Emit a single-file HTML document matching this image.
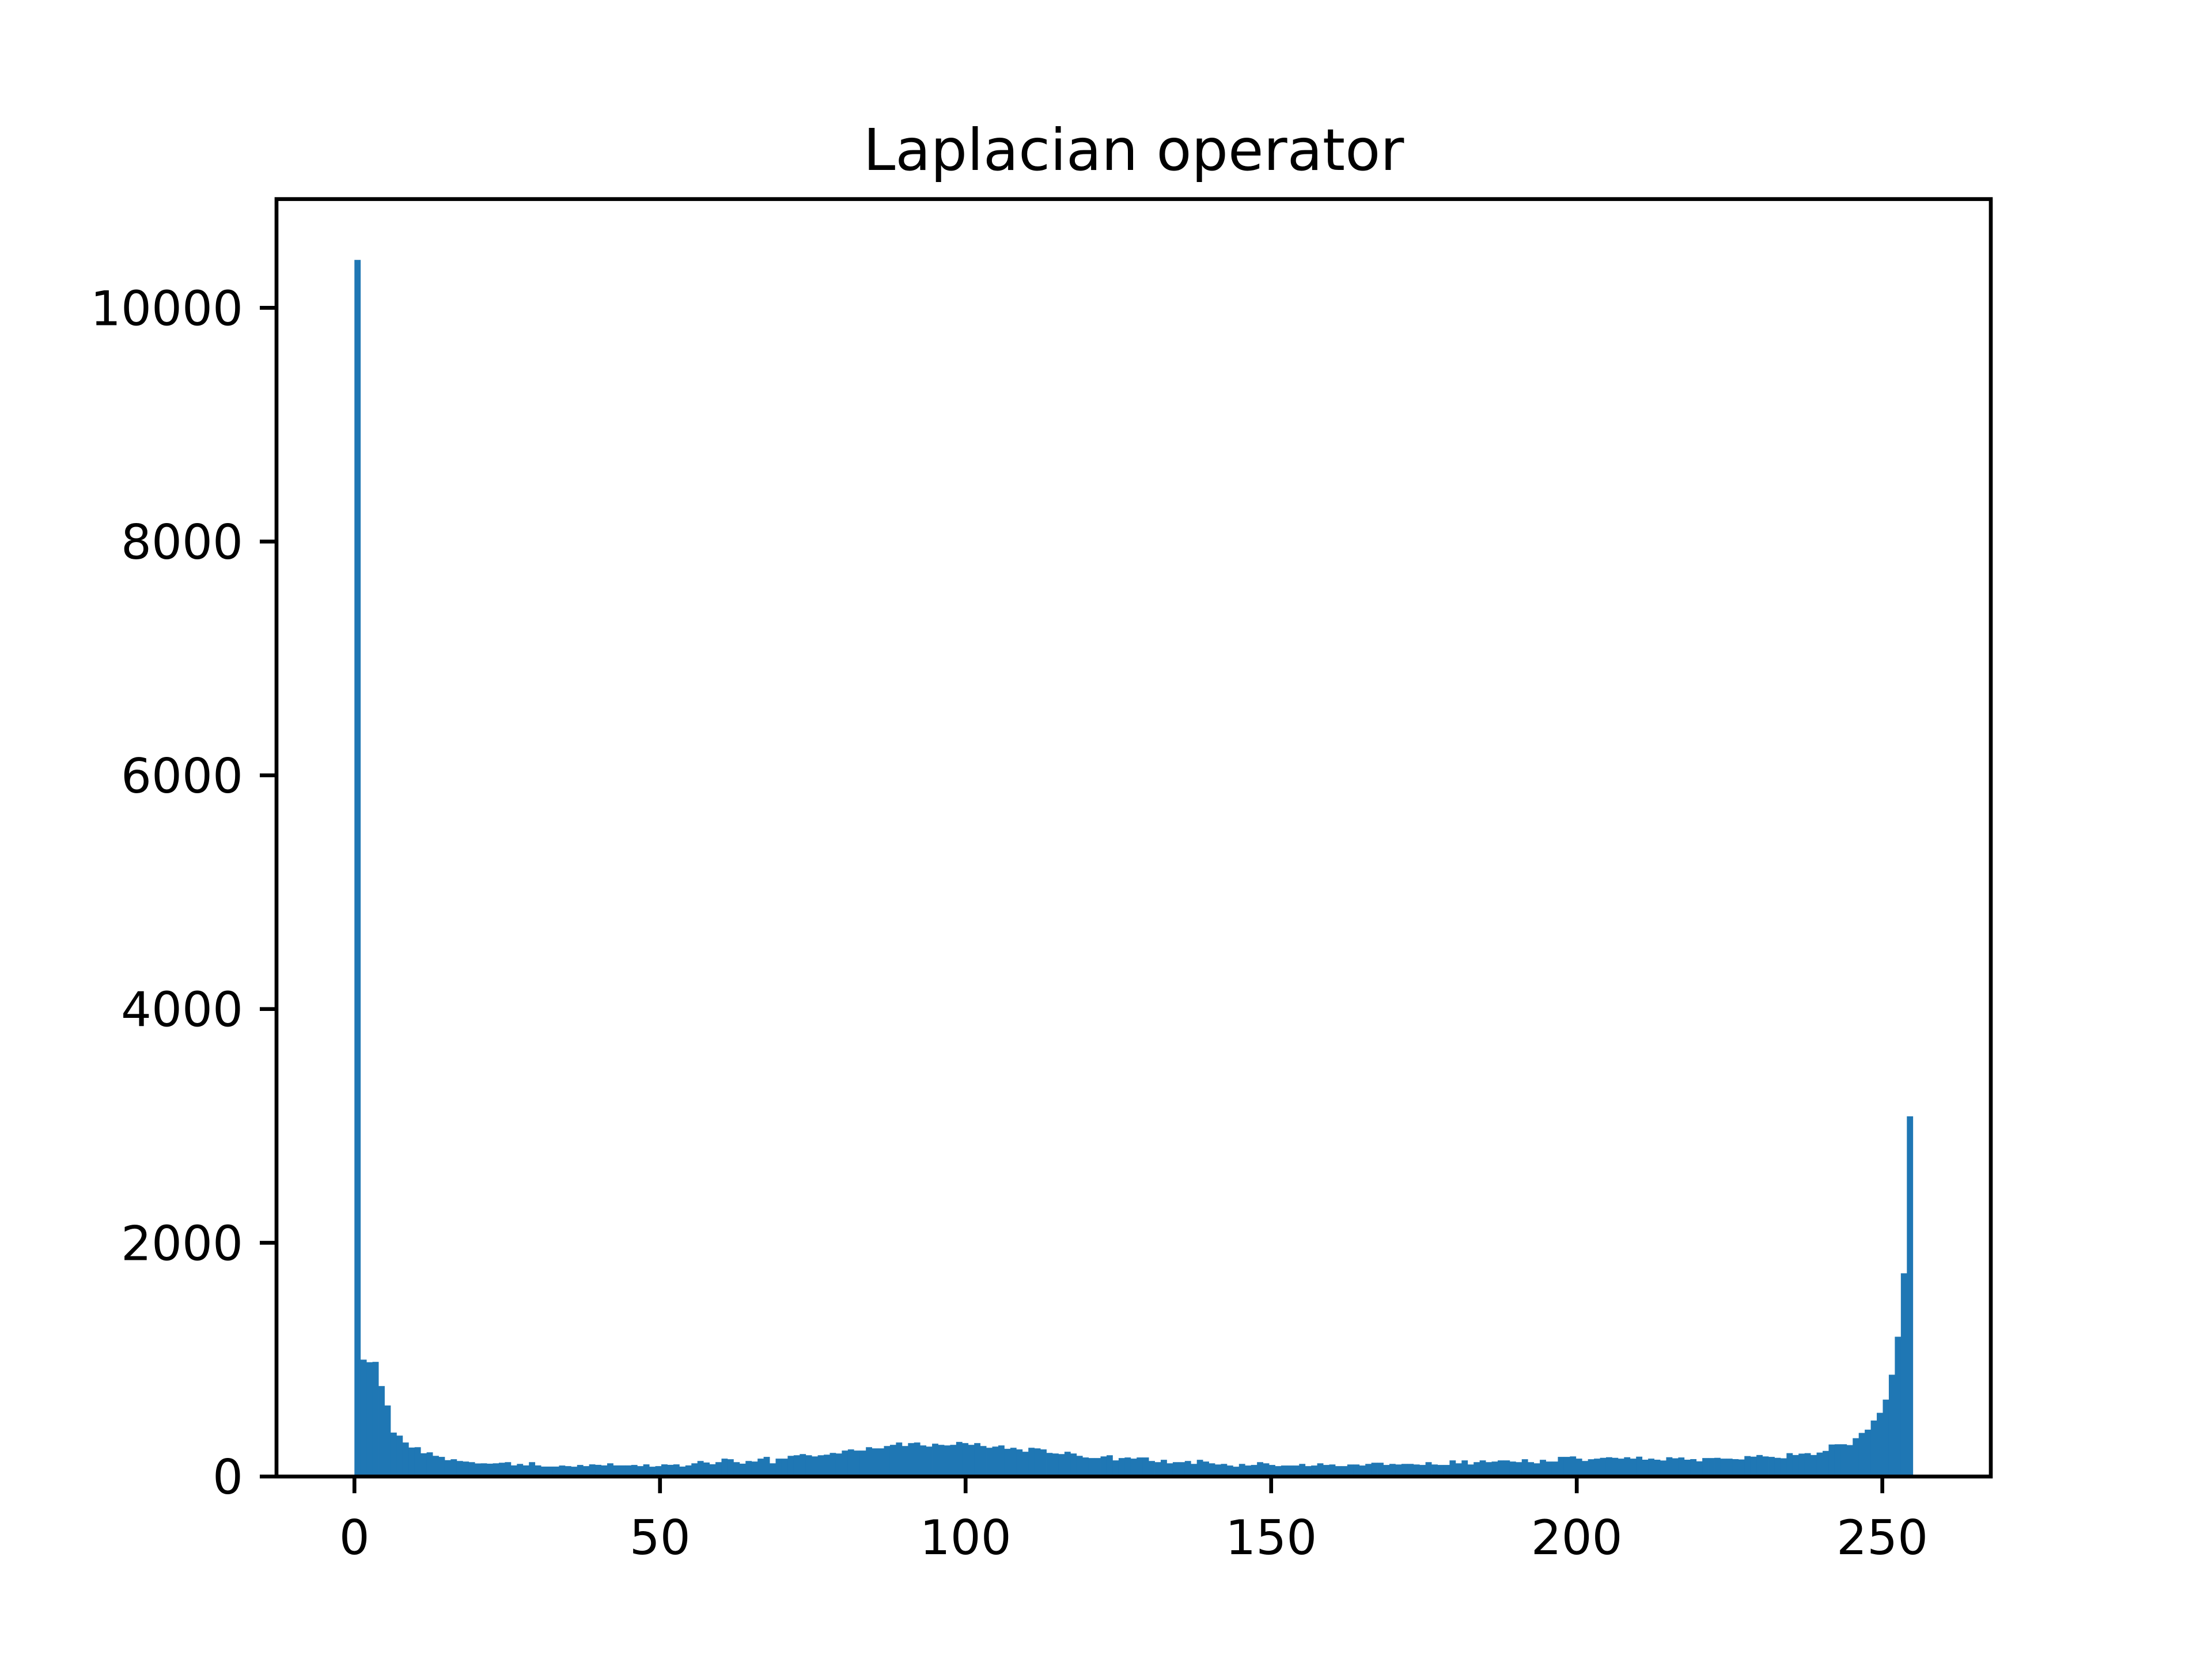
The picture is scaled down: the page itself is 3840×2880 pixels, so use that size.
<!DOCTYPE html>
<html><head><meta charset="utf-8"><style>
html,body{margin:0;padding:0;background:#fff;}
svg{display:block;font-family:"DejaVu Sans","Liberation Sans",sans-serif;}
</style></head><body>
<svg id="chart" width="3840" height="2880" viewBox="0 0 3840 2880" xmlns="http://www.w3.org/2000/svg">
<rect x="0" y="0" width="3840" height="2880" fill="#fff"/>
<text x="1968" y="295" font-size="100" text-anchor="middle" fill="#000">Laplacian operator</text>
<g id="bars"></g>
<g id="xticks"></g>
<g id="yticks"></g>
<rect x="480" y="345.6" width="2976" height="2217.6" fill="none" stroke="#000" stroke-width="6.67"/>
</svg>
<script>
const counts = [10410,1000,978,981,774,608,376,350,291,248,251,199,207,177,168,140,148,133,128,123,
112,113,110,113,118,123,95,108,95,123,95,85,85,85,94,89,84,99,89,104,
100,95,113,95,95,95,99,89,104,84,89,104,100,104,85,95,113,133,120,105,
123,153,148,123,110,133,128,153,168,113,153,153,177,182,192,182,172,182,187,202,
197,222,232,222,222,251,241,241,261,271,291,261,286,291,266,256,281,271,266,271,
296,286,271,286,261,246,256,266,237,246,232,212,246,241,232,202,197,192,212,197,
177,163,158,158,172,182,138,158,163,153,163,163,133,123,143,113,123,123,133,108,
143,128,113,103,108,94,84,108,94,99,123,113,99,89,94,94,94,108,89,94,
113,99,103,89,89,103,103,94,108,118,118,99,108,103,108,108,103,99,123,103,
99,99,138,113,138,103,123,138,123,128,138,138,128,123,148,123,113,143,128,128,
168,168,172,153,133,148,153,160,165,160,153,165,153,170,144,153,144,137,165,156,
163,144,149,130,158,158,160,153,153,149,146,175,170,184,172,168,160,156,200,184,
196,200,184,205,219,274,276,276,269,328,373,401,479,545,658,871,1196,1739,3082];
const xTicks = [0,50,100,150,200,250];
const yTicks = [0,2000,4000,6000,8000,10000];
const dataMin = 0, dataMax = 255;

const L=480,R=3456,T=345.6,B=2563.2;
const span=dataMax-dataMin, x0=dataMin-0.05*span, x1=dataMax+0.05*span;
const yMax=Math.max(...counts)*1.05;
const sx=v=>L+(v-x0)/(x1-x0)*(R-L);
const sy=v=>B-v/yMax*(B-T);
const NS="http://www.w3.org/2000/svg";
const bw=span/counts.length;
const bars=document.getElementById('bars');
counts.forEach((c,i)=>{
  const r=document.createElementNS(NS,'rect');
  const xa=sx(dataMin+i*bw), xb=sx(dataMin+(i+1)*bw);
  r.setAttribute('x',xa);r.setAttribute('width',xb-xa+0.4);
  r.setAttribute('y',sy(c));r.setAttribute('height',B-sy(c));
  r.setAttribute('fill','#1f77b4');
  
  
  bars.appendChild(r);
});
const xg=document.getElementById('xticks');
xTicks.forEach(t=>{
  const x=sx(t);
  const l=document.createElementNS(NS,'line');
  l.setAttribute('x1',x);l.setAttribute('x2',x);l.setAttribute('y1',B);l.setAttribute('y2',B+29);
  l.setAttribute('stroke','#000');l.setAttribute('stroke-width','6.67');
  
  
  xg.appendChild(l);
  const tx=document.createElementNS(NS,'text');
  tx.setAttribute('x',x);tx.setAttribute('y',B+29+29+77);
  tx.setAttribute('font-size','83.3');tx.setAttribute('text-anchor','middle');
  tx.textContent=t;
  
  
  xg.appendChild(tx);
});
const yg=document.getElementById('yticks');
yTicks.forEach(t=>{
  const y=sy(t);
  const l=document.createElementNS(NS,'line');
  l.setAttribute('x1',L-29);l.setAttribute('x2',L);l.setAttribute('y1',y);l.setAttribute('y2',y);
  l.setAttribute('stroke','#000');l.setAttribute('stroke-width','6.67');
  
  
  yg.appendChild(l);
  const tx=document.createElementNS(NS,'text');
  tx.setAttribute('x',L-58);tx.setAttribute('y',y+30);
  tx.setAttribute('font-size','83.3');tx.setAttribute('text-anchor','end');
  tx.textContent=t;
  
  
  yg.appendChild(tx);
});
</script>
</body></html>
